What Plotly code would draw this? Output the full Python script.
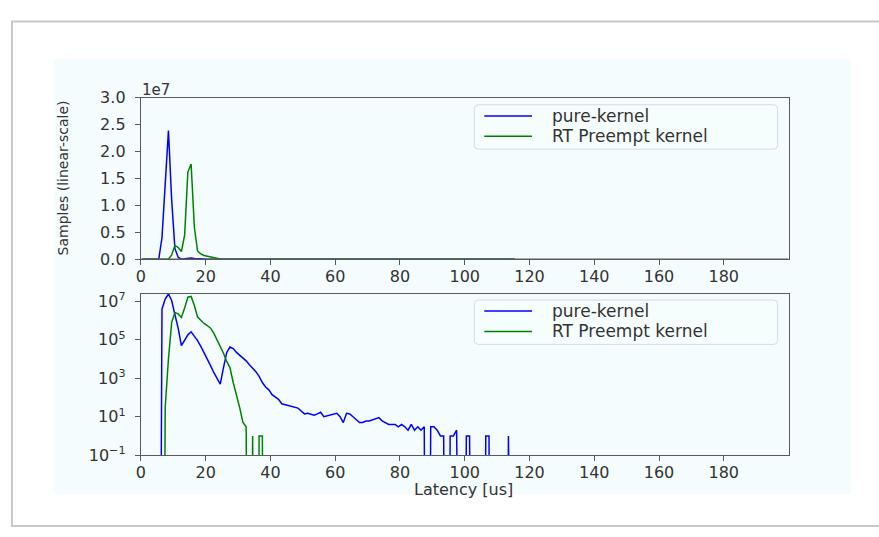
import numpy as np
import plotly.graph_objects as go

# ---------------- data (1 us histogram bins, value read at bin centre) ----------------
bin_centers_us = np.arange(116) + 0.5

pure_kernel = [
    0, 0, 0, 0, 0, 0, 4.0e6, 1.3e7, 2.39e7, 1.1e7,
    2.0e6, 4.0e5, 5.0e4, 1.0e5, 1.8e5, 2.6e5, 1.6e5, 9.0e4, 4.5e4, 2.2e4,
    1.0e4, 4.5e3, 2.0e3, 1.0e3, 5.0e2, 3.6e3, 2.2e4, 4.2e4, 3.5e4, 2.2e4,
    1.6e4, 1.1e4, 8.0e3, 5.0e3, 3.5e3, 2.2e3, 1.25e3, 600, 350, 250,
    140, 100, 80, 47, 43, 38, 35, 32, 28, 20,
    14, 15, 13, 12, 14, 17, 10, 11, 12, 13,
    15, 10, 5, 15, 14, 10, 7, 5, 5, 6,
    6, 7, 8, 9, 6, 5, 4, 4, 4, 3,
    4, 3, 2, 4, 2, 3, 2, 3, 0, 3,
    3, 2, 1, 1, 0, 1, 1, 2, 0, 0,
    1, 1, 0, 0, 0, 0, 1, 1, 0, 0,
    0, 0, 0, 1, 0, 0,
]

rt_preempt = [
    0, 0, 0, 0, 0, 0, 0, 30, 1.0e4, 8.0e5,
    2.6e6, 2.2e6, 1.45e6, 4.5e6, 1.62e7, 1.77e7, 6.0e6, 1.5e6, 1.0e6, 7.0e5,
    5.5e5, 4.0e5, 2.2e5, 1.0e5, 4.5e4, 2.0e4, 7.5e3, 3.5e3, 600, 150,
    30, 5, 3, 0, 1, 0, 1, 1, 0, 0,
] + [0] * 76

series_names = ["pure-kernel", "RT Preempt kernel"]
series_colors = ["#0000FF", "#008000"]
x_ticks = list(range(0, 181, 20))
lin_ticks = [0, 0.5e7, 1.0e7, 1.5e7, 2.0e7, 2.5e7, 3.0e7]
lin_tick_text = ["0.0", "0.5", "1.0", "1.5", "2.0", "2.5", "3.0"]
log_ticks = [1e-1, 1e1, 1e3, 1e5, 1e7]
log_tick_text = ["10<sup>\u22121</sup>", "10<sup>1</sup>", "10<sup>3</sup>",
                 "10<sup>5</sup>", "10<sup>7</sup>"]

# ---------------- figure ----------------
W, H = 879, 537
PANEL = "#F4FCFD"
FONT = "DejaVu Sans"
TXT = "#333333"
SPINE = "#5a5a5a"


def px(v):
    return v / W


def py(v):
    return 1 - v / H


fig = go.Figure()
series = [pure_kernel, rt_preempt]
for name, col, vals in zip(series_names, series_colors, series):
    v = np.asarray(vals, dtype=float)
    fig.add_trace(go.Scatter(x=bin_centers_us, y=v, mode="lines", name=name,
                             line=dict(color=col, width=1.5), showlegend=False,
                             xaxis="x", yaxis="y"))
for name, col, vals in zip(series_names, series_colors, series):
    v = np.asarray(vals, dtype=float)
    v_log = np.where(v > 0, v, 1e-30)  # matplotlib-style clipping of empty bins
    fig.add_trace(go.Scatter(x=bin_centers_us, y=v_log, mode="lines", name=name,
                             line=dict(color=col, width=1.5), showlegend=False,
                             xaxis="x2", yaxis="y2"))

axis_common = dict(showline=True, mirror=True, linecolor=SPINE, linewidth=1.3,
                   ticks="outside", ticklen=5, tickwidth=1.3, tickcolor=SPINE,
                   showgrid=False, zeroline=False,
                   tickfont=dict(family=FONT, size=16, color=TXT))

xdom = [px(136.7), px(788)]

shapes = [
    dict(type="rect", xref="paper", yref="paper", x0=px(49), x1=px(851),
         y0=py(503), y1=py(52), fillcolor=PANEL, line=dict(width=0), layer="below"),
    dict(type="rect", xref="paper", yref="paper", x0=px(7), x1=1.05,
         y0=py(536), y1=py(13), line=dict(color="#C8C8C8", width=2), layer="below"),
    # spine drawn over the zero-level of the linear panel (matplotlib draws spines above lines)
    dict(type="line", xref="x", yref="y", x0=0, x1=200, y0=0, y1=0,
         line=dict(color=SPINE, width=1.6), layer="above"),
]
annotations = [
    dict(text="1e7", x=px(136), y=py(84), xref="paper", yref="paper",
         xanchor="left", yanchor="middle", showarrow=False,
         font=dict(family=FONT, size=15, color=TXT)),
    dict(text="Samples (linear-scale)", x=px(58), y=py(175), xref="paper", yref="paper",
         xanchor="center", yanchor="middle", textangle=-90, showarrow=False,
         font=dict(family=FONT, size=14, color=TXT)),
    dict(text="Latency [us]", x=px(461), y=py(498), xref="paper", yref="paper",
         xanchor="center", yanchor="middle", showarrow=False,
         font=dict(family=FONT, size=16, color=TXT)),
]


def rounded_box(x0, y0, x1, y1, r=4):
    X = lambda v: px(v)
    Y = lambda v: py(v)
    return (f"M {X(x0 + r)},{Y(y0)} L {X(x1 - r)},{Y(y0)} Q {X(x1)},{Y(y0)} {X(x1)},{Y(y0 + r)} "
            f"L {X(x1)},{Y(y1 - r)} Q {X(x1)},{Y(y1)} {X(x1 - r)},{Y(y1)} "
            f"L {X(x0 + r)},{Y(y1)} Q {X(x0)},{Y(y1)} {X(x0)},{Y(y1 - r)} "
            f"L {X(x0)},{Y(y0 + r)} Q {X(x0)},{Y(y0)} {X(x0 + r)},{Y(y0)} Z")


# legends (one per panel), laid out like matplotlib's upper-right legend
for top in (99.3, 301.7):
    shapes.append(dict(type="path", xref="paper", yref="paper",
                       path=rounded_box(472, top, 777, top + 46),
                       fillcolor="rgba(246,252,253,0.8)",
                       line=dict(color="#D3DCE8", width=1), layer="above"))
    for k, (name, col) in enumerate(zip(series_names, series_colors)):
        yrow = top + 11.5 + 21 * k
        shapes.append(dict(type="line", xref="paper", yref="paper",
                           x0=px(482), x1=px(530), y0=py(yrow), y1=py(yrow),
                           line=dict(color=col, width=1.5), layer="above"))
        annotations.append(dict(text=name, x=px(548), y=py(yrow), xref="paper",
                                yref="paper", xanchor="left", yanchor="middle",
                                showarrow=False,
                                font=dict(family=FONT, size=17, color=TXT)))

xa = dict(axis_common, ticklabelstandoff=-3)
ya = dict(axis_common, ticklabelstandoff=6)

fig.update_layout(
    width=W, height=H,
    margin=dict(l=0, r=0, t=0, b=0),
    paper_bgcolor="white", plot_bgcolor=PANEL,
    showlegend=False,
    xaxis=dict(domain=xdom, range=[0, 200], tickvals=x_ticks, anchor="y", **xa),
    yaxis=dict(domain=[py(259.5), py(92)], range=[0, 3e7], tickvals=lin_ticks,
               ticktext=lin_tick_text, anchor="x", **ya),
    xaxis2=dict(domain=xdom, range=[0, 200], tickvals=x_ticks, anchor="y2", **xa),
    yaxis2=dict(domain=[py(462.6), py(295)], type="log", range=[-1, 7.4],
                tickvals=log_ticks, ticktext=log_tick_text, anchor="x2", **ya),
    shapes=shapes,
    annotations=annotations,
)

fig.write_html(
    "out.html",
    config={"displayModeBar": False},
    post_script="document.body.style.margin='0';"
                "document.documentElement.style.overflow='hidden';",
)
